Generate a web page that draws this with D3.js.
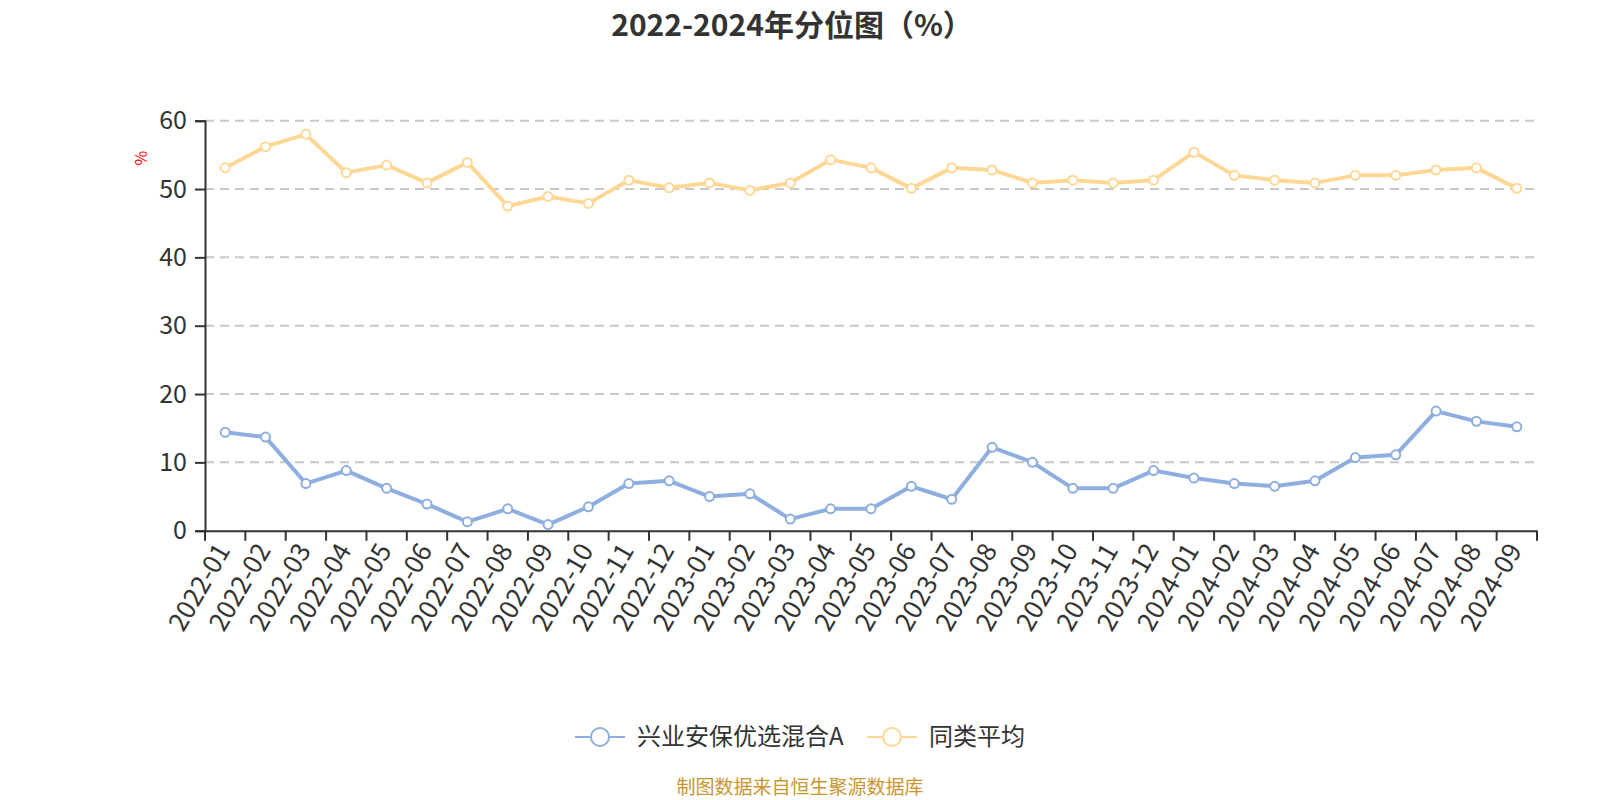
<!DOCTYPE html>
<html>
<head>
  <meta charset="utf-8">
  <title>2022-2024年分位图（%）</title>
  <script src="https://d3js.org/d3.v7.min.js"></script>
  <style>
    body { margin: 0; background: #fff; font-family: "Noto Sans CJK SC", "Noto Sans", sans-serif; }
    svg { display: block; }
  </style>
</head>
<body>
<svg width="1600" height="800"></svg>
<script>
var months = ["2022-01","2022-02","2022-03","2022-04","2022-05","2022-06","2022-07","2022-08","2022-09","2022-10","2022-11","2022-12",
  "2023-01","2023-02","2023-03","2023-04","2023-05","2023-06","2023-07","2023-08","2023-09","2023-10","2023-11","2023-12",
  "2024-01","2024-02","2024-03","2024-04","2024-05","2024-06","2024-07","2024-08","2024-09"];

var fundValues = [14.4, 13.7, 6.9, 8.8, 6.2, 3.9, 1.3, 3.2, 0.9, 3.5, 6.9, 7.3,
  5.0, 5.4, 1.7, 3.2, 3.2, 6.5, 4.6, 12.2, 10.0, 6.2, 6.2, 8.8,
  7.7, 6.9, 6.5, 7.3, 10.7, 11.1, 17.5, 16.0, 15.2];

var avgValues = [53.1, 56.2, 58.0, 52.4, 53.5, 50.9, 53.9, 47.5, 48.9, 47.9, 51.3, 50.2,
  50.9, 49.8, 50.9, 54.3, 53.1, 50.1, 53.1, 52.8, 50.9, 51.3, 50.9, 51.3,
  55.4, 52.0, 51.3, 50.9, 52.0, 52.0, 52.8, 53.1, 50.1];

var yTicks = [0, 10, 20, 30, 40, 50, 60];

var seriesNames = ["兴业安保优选混合A", "同类平均"];
var seriesColors = ["#8eaedf", "#ffd794"];

var svg = d3.select("svg");
var plotLeft = 205, plotRight = 1537, plotTop = 120.7, plotBottom = 530.7;

var x = d3.scaleBand().domain(months).range([plotLeft, plotRight]);
var y = d3.scaleLinear().domain([0, 60]).range([plotBottom, plotTop]);

// title
svg.append("text")
  .attr("x", 792).attr("y", 36)
  .attr("text-anchor", "middle")
  .attr("font-size", "30px").attr("font-weight", "bold")
  .attr("fill", "#333")
  .text("2022-2024年分位图（%）");

// grid
svg.append("g")
  .selectAll("line")
  .data(yTicks.filter(function (d) { return d > 0; }))
  .enter().append("line")
  .attr("x1", plotLeft).attr("x2", plotRight)
  .attr("y1", function (d) { return y(d); })
  .attr("y2", function (d) { return y(d); })
  .attr("stroke", "#c8c8c8").attr("stroke-width", 2)
  .attr("stroke-dasharray", "9,6");

// y axis
var yAxis = svg.append("g")
  .attr("transform", "translate(" + plotLeft + ",0)")
  .call(d3.axisLeft(y).tickValues(yTicks).tickSize(10).tickPadding(8));
yAxis.select(".domain").attr("stroke", "#333").attr("stroke-width", 2);
yAxis.selectAll(".tick line").attr("stroke", "#333").attr("stroke-width", 2);
yAxis.selectAll(".tick text").attr("font-size", "25px").attr("fill", "#333")
  .attr("font-family", "'Noto Sans CJK SC', sans-serif");

svg.append("text")
  .attr("transform", "translate(147,158) rotate(-90)")
  .attr("text-anchor", "middle")
  .attr("font-size", "16px").attr("fill", "#ff0000")
  .text("%");

// x axis
var xAxis = svg.append("g")
  .attr("transform", "translate(0," + plotBottom + ")")
  .call(d3.axisBottom(x).tickSize(0).tickSizeOuter(0));
xAxis.select(".domain").attr("stroke", "#333").attr("stroke-width", 2);
xAxis.selectAll(".tick line").remove();
xAxis.selectAll(".tick text")
  .attr("font-size", "26px").attr("fill", "#333")
  .attr("font-family", "'Noto Sans CJK SC', sans-serif")
  .attr("text-anchor", "end")
  .attr("y", 0)
  .attr("dy", "0.35em")
  .attr("transform", "translate(-2,15) rotate(-60)");

// band boundary ticks
var bounds = months.map(function (m) { return x(m); }).concat([plotRight]);
svg.append("g").selectAll("line").data(bounds).enter().append("line")
  .attr("x1", function (d) { return d; }).attr("x2", function (d) { return d; })
  .attr("y1", plotBottom).attr("y2", plotBottom + 10)
  .attr("stroke", "#333").attr("stroke-width", 2);

// lines
var line = d3.line()
  .x(function (d, i) { return x(months[i]) + x.bandwidth() / 2; })
  .y(function (d) { return y(d); });

[fundValues, avgValues].forEach(function (vals, k) {
  svg.append("path")
    .datum(vals)
    .attr("d", line)
    .attr("fill", "none")
    .attr("stroke", seriesColors[k])
    .attr("stroke-width", 4)
    .attr("stroke-linejoin", "round");
  svg.append("g").selectAll("circle").data(vals).enter().append("circle")
    .attr("cx", function (d, i) { return x(months[i]) + x.bandwidth() / 2; })
    .attr("cy", function (d) { return y(d); })
    .attr("r", 4.5)
    .attr("fill", "#fff")
    .attr("stroke", seriesColors[k])
    .attr("stroke-width", 2);
});

// legend
var legendX = [575, 867];
seriesNames.forEach(function (name, k) {
  var g = svg.append("g").attr("transform", "translate(" + legendX[k] + ",737)");
  g.append("line").attr("x1", 0).attr("x2", 50).attr("y1", 0).attr("y2", 0)
    .attr("stroke", seriesColors[k]).attr("stroke-width", 2);
  g.append("circle").attr("cx", 25).attr("cy", 0).attr("r", 9)
    .attr("fill", "#fff").attr("stroke", seriesColors[k]).attr("stroke-width", 2);
  g.append("text").attr("x", 62).attr("y", 0).attr("dy", "0.35em")
    .attr("font-size", "24px").attr("fill", "#333")
    .text(name);
});

// source
svg.append("text")
  .attr("x", 800).attr("y", 787).attr("dy", "0.35em")
  .attr("text-anchor", "middle")
  .attr("font-size", "19px").attr("fill", "#c9952d")
  .text("制图数据来自恒生聚源数据库");
</script>
</body>
</html>
